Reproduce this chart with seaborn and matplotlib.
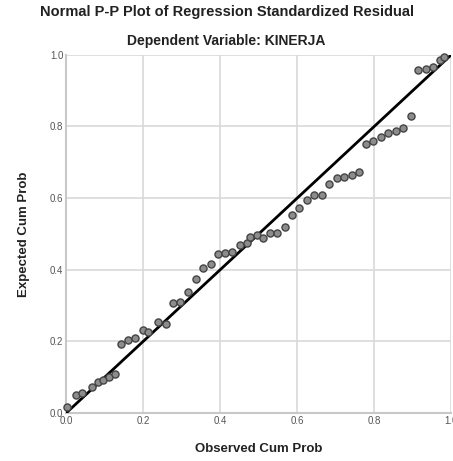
import matplotlib
matplotlib.use("Agg")
import matplotlib.pyplot as plt
import seaborn as sns
import pandas as pd

# Observed / expected cumulative probabilities
observed = [0.002, 0.026, 0.040, 0.067, 0.083, 0.096, 0.112, 0.127, 0.143, 0.161,
            0.180, 0.200, 0.213, 0.239, 0.260, 0.278, 0.296, 0.316, 0.338, 0.356,
            0.376, 0.395, 0.413, 0.430, 0.452, 0.469, 0.478, 0.495, 0.512, 0.530,
            0.547, 0.569, 0.587, 0.605, 0.626, 0.644, 0.664, 0.683, 0.703, 0.722,
            0.742, 0.761, 0.779, 0.797, 0.818, 0.836, 0.857, 0.875, 0.896, 0.914,
            0.934, 0.952, 0.971, 0.982]
expected = [0.018, 0.050, 0.056, 0.073, 0.087, 0.092, 0.100, 0.110, 0.193, 0.204,
            0.209, 0.232, 0.227, 0.255, 0.250, 0.307, 0.311, 0.339, 0.374, 0.405,
            0.416, 0.444, 0.448, 0.450, 0.469, 0.475, 0.492, 0.497, 0.489, 0.503,
            0.504, 0.520, 0.553, 0.573, 0.595, 0.609, 0.609, 0.640, 0.657, 0.660,
            0.665, 0.674, 0.750, 0.760, 0.772, 0.781, 0.788, 0.797, 0.830, 0.958,
            0.961, 0.967, 0.986, 0.994]
ref_line = [0.0, 1.0]
ticks = [0.0, 0.2, 0.4, 0.6, 0.8, 1.0]

df = pd.DataFrame({"observed": observed, "expected": expected})
line_df = pd.DataFrame({"x": ref_line, "y": ref_line})

sns.set_style("whitegrid")
plt.rcParams["font.family"] = ["Liberation Sans", "DejaVu Sans"]

fig = plt.figure(figsize=(4.53, 4.61), dpi=100)
ax = fig.add_axes([0.146, 0.104, 0.85, 0.777])

sns.lineplot(data=line_df, x="x", y="y", color="black", linewidth=2, ax=ax, zorder=3)
sns.scatterplot(data=df, x="observed", y="expected", s=26, color="#8c8c8c",
                edgecolor="#444444", linewidth=1.0, ax=ax, zorder=4, clip_on=False)

ax.set_xlim(0, 1)
ax.set_ylim(0, 1)
ax.set_xticks(ticks)
ax.set_yticks(ticks)
ax.set_xticklabels([f"{t:.1f}" for t in ticks])
ax.set_yticklabels([f"{t:.1f}" for t in ticks])
ax.tick_params(labelsize=7, colors="#555555", pad=2, length=0)
ax.grid(color="#d9d9d9", linewidth=1.2)
for side in ["top", "right"]:
    ax.spines[side].set_visible(False)
for side in ["left", "bottom"]:
    ax.spines[side].set_color("#c8c8c8")
    ax.spines[side].set_linewidth(1.5)

ax.set_xlabel("Observed Cum Prob", fontsize=9.5, fontweight="bold", color="#222222", labelpad=12)
ax.set_ylabel("Expected Cum Prob", fontsize=9.5, fontweight="bold", color="#222222", labelpad=14)

fig.text(0.5, 0.973, "Normal P-P Plot of Regression Standardized Residual",
         ha="center", va="center", fontsize=10.5, fontweight="bold", color="#222222")
fig.text(0.5, 0.91, "Dependent Variable: KINERJA",
         ha="center", va="center", fontsize=10, fontweight="bold", color="#222222")

fig.savefig("out.png", dpi=100)
